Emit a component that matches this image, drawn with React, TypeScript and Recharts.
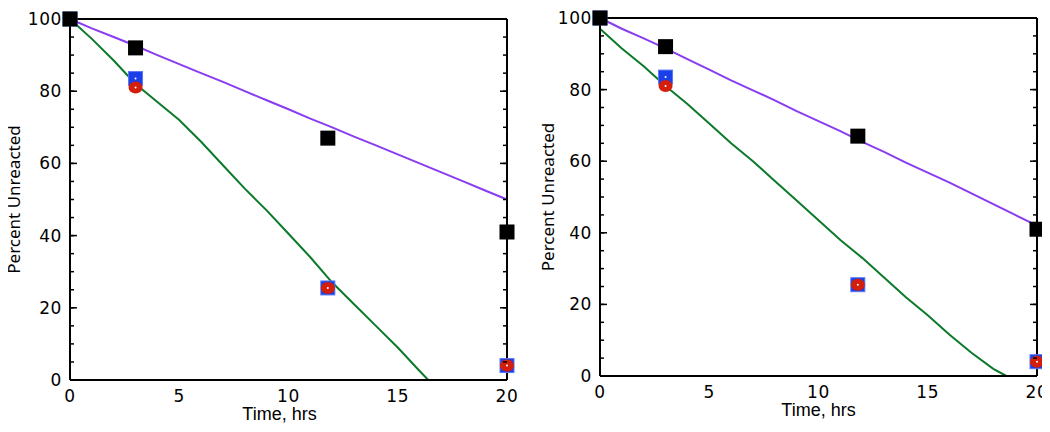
import React from 'react';
import { ComposedChart, Line, Scatter, XAxis, YAxis } from 'recharts';

// Measured samples (hrs)
const sampleTimes = [0, 3, 11.8, 20];
const blackValues = [100, 92, 67, 41];
const blueValues = [100, 83.5, 25.5, 4];
const redValues = [100, 81, 25.5, 4];

// Fit curves, left panel
const leftPurpleTimes = [0, 1, 2, 3, 4, 5, 6, 7, 8, 9, 10, 11, 12, 13, 14, 15, 16, 17, 18, 19, 20];
const leftPurpleValues = [100, 97.4, 95, 92.6, 90, 87.5, 85, 82.6, 80, 77.5, 75, 72.4, 70, 67.4, 65, 62.5, 60, 57.5, 55, 52.5, 50];
const leftGreenTimes = [0, 1, 2, 3, 4, 5, 6, 7, 8, 9, 10, 11, 12, 13, 14, 15, 16, 16.4];
const leftGreenValues = [100, 94.5, 88.5, 82, 77, 72, 66, 59.5, 53, 47, 40.5, 34, 27, 21, 15, 9, 2.5, 0];

// Fit curves, right panel
const rightPurpleTimes = [0, 1, 2, 3, 4, 5, 6, 7, 8, 9, 10, 11, 12, 13, 14, 15, 16, 17, 18, 19, 20];
const rightPurpleValues = [100, 97, 94.3, 91.5, 88.5, 85.6, 82.6, 79.8, 77, 74, 71.2, 68.4, 65.4, 62.6, 59.6, 56.8, 54, 51, 48, 45, 42];
const rightGreenTimes = [0, 1, 2, 3, 4, 5, 6, 7, 8, 9, 10, 11, 12, 13, 14, 15, 16, 17, 18, 18.6];
const rightGreenValues = [97, 91.5, 86.5, 81, 76, 70.5, 65, 60, 54.5, 49, 43.5, 38, 33, 27.5, 22, 17, 11.5, 6.5, 2, 0];

const xMajorTicks = [0, 5, 10, 15, 20];
const xMinorTicks = [0, 1, 2, 3, 4, 5, 6, 7, 8, 9, 10, 11, 12, 13, 14, 15, 16, 17, 18, 19, 20];
const yMajorTicks = [0, 20, 40, 60, 80, 100];
const yMinorTicks = [0, 5, 10, 15, 20, 25, 30, 35, 40, 45, 50, 55, 60, 65, 70, 75, 80, 85, 90, 95, 100];

const xLabel = 'Time, hrs';
const yLabel = 'Percent Unreacted';

const zip = (xs: number[], ys: number[]) => xs.map((x, i) => ({ x, y: ys[i] }));

const BlackSquare = (p: any) => (
  <rect x={p.cx - 7.5} y={p.cy - 7.5} width={15} height={15} fill="#000" />
);
const BlueSquare = (p: any) => (
  <g>
    <rect x={p.cx - 7} y={p.cy - 7} width={14} height={14} fill="#1a3ee8" stroke="#5a78f0" strokeWidth={1} />
    <circle cx={p.cx} cy={p.cy} r={1} fill="#fff" />
  </g>
);
const RedCircle = (p: any) => (
  <g>
    <ellipse cx={p.cx} cy={p.cy} rx={7} ry={6} fill="#d21e0a" />
    <circle cx={p.cx} cy={p.cy} r={1} fill="#fff" />
  </g>
);

// inward tick mark drawn at the axis line position
const makeTick = (dx: number, dy: number) => (p: any) => (
  <line x1={p.x} y1={p.y} x2={p.x + dx} y2={p.y + dy} stroke="#000" strokeWidth={1.5} />
);
const MINOR = 4;
const MAJOR = 7;

const tickStyle = { fill: '#000', fontSize: 17, fontFamily: 'DejaVu Sans', letterSpacing: 0.6 };
const axisLineStyle = { stroke: '#000', strokeWidth: 2 };
const THIN = 0.001;

type PanelProps = {
  width: number;
  height: number;
  top: number;
  right: number;
  yAxisWidth: number;
  xAxisHeight: number;
  purple: { x: number; y: number }[];
  green: { x: number; y: number }[];
  yLabelDx: number;
  xLabelDx: number;
  xLabelDy: number;
};

function Panel(props: PanelProps) {
  const { width, height, top, right, yAxisWidth, xAxisHeight, purple, green, yLabelDx, xLabelDx, xLabelDy } = props;
  const black = zip(sampleTimes, blackValues);
  const blue = zip(sampleTimes, blueValues);
  const red = zip(sampleTimes, redValues);
  const deco = { type: 'number' as const, interval: 0 as const, tickLine: false, tickSize: 0, tickMargin: 0, allowDataOverflow: true, mirror: true };
  return (
    <ComposedChart width={width} height={height} margin={{ top, right, bottom: 0, left: 0 }}>
      <XAxis
        xAxisId={0}
        dataKey="x"
        type="number"
        domain={[0, 20]}
        ticks={xMajorTicks}
        interval={0}
        height={xAxisHeight}
        tickLine={false}
        tickSize={0}
        tickMargin={10}
        axisLine={axisLineStyle}
        tick={tickStyle}
        label={{ value: xLabel, position: 'center', dx: xLabelDx, dy: xLabelDy, fill: '#000', fontSize: 18, fontFamily: 'Liberation Sans' }}
      />
      <XAxis xAxisId="bmin" {...deco} domain={[0, 20]} ticks={xMinorTicks} orientation="bottom" height={THIN} axisLine={false} tick={makeTick(0, -MINOR)} />
      <XAxis xAxisId="bmaj" {...deco} domain={[0, 20]} ticks={xMajorTicks} orientation="bottom" height={THIN} axisLine={false} tick={makeTick(0, -MAJOR)} />
      <XAxis xAxisId="tmin" {...deco} domain={[0, 20]} ticks={xMinorTicks} orientation="top" height={THIN} axisLine={axisLineStyle} tick={makeTick(0, MINOR)} />
      <XAxis xAxisId="tmaj" {...deco} domain={[0, 20]} ticks={xMajorTicks} orientation="top" height={THIN} axisLine={false} tick={makeTick(0, MAJOR)} />
      <YAxis
        yAxisId={0}
        dataKey="y"
        type="number"
        domain={[0, 100]}
        ticks={yMajorTicks}
        interval={0}
        width={yAxisWidth}
        tickLine={false}
        tickSize={0}
        tickMargin={8}
        axisLine={axisLineStyle}
        tick={tickStyle}
        label={{ value: yLabel, angle: -90, position: 'center', dx: yLabelDx, fill: '#000', fontSize: 17, fontFamily: 'Noto Sans' }}
      />
      <YAxis yAxisId="lmin" {...deco} domain={[0, 100]} ticks={yMinorTicks} orientation="left" width={THIN} axisLine={false} tick={makeTick(MINOR, 0)} />
      <YAxis yAxisId="lmaj" {...deco} domain={[0, 100]} ticks={yMajorTicks} orientation="left" width={THIN} axisLine={false} tick={makeTick(MAJOR, 0)} />
      <YAxis yAxisId="rmin" {...deco} domain={[0, 100]} ticks={yMinorTicks} orientation="right" width={THIN} axisLine={axisLineStyle} tick={makeTick(-MINOR, 0)} />
      <YAxis yAxisId="rmaj" {...deco} domain={[0, 100]} ticks={yMajorTicks} orientation="right" width={THIN} axisLine={false} tick={makeTick(-MAJOR, 0)} />
      <Line data={purple} dataKey="y" type="linear" stroke="#8a3cf0" strokeWidth={2} dot={false} isAnimationActive={false} />
      <Line data={green} dataKey="y" type="linear" stroke="#0b7a2a" strokeWidth={2} dot={false} isAnimationActive={false} />
      <Scatter data={blue} dataKey="y" shape={BlueSquare} isAnimationActive={false} />
      <Scatter data={red} dataKey="y" shape={RedCircle} isAnimationActive={false} />
      <Scatter data={black} dataKey="y" shape={BlackSquare} isAnimationActive={false} />
    </ComposedChart>
  );
}

export default function App() {
  return (
    <div style={{ display: 'flex', width: 1034, height: 416 }}>
      <style>{'html,body{overflow:hidden;} svg.recharts-surface{overflow:visible;} .recharts-wrapper{overflow:visible;}'}</style>
      <div style={{ flex: '0 0 auto' }}>
        <Panel
          width={525}
          height={416}
          top={11}
          right={26}
          yAxisWidth={62}
          xAxisHeight={44}
          purple={zip(leftPurpleTimes, leftPurpleValues)}
          green={zip(leftGreenTimes, leftGreenValues)}
          yLabelDx={-25}
          xLabelDx={-9}
          xLabelDy={12}
        />
      </div>
      <div style={{ flex: '0 0 auto' }}>
        <Panel
          width={509}
          height={416}
          top={10}
          right={5}
          yAxisWidth={67}
          xAxisHeight={48}
          purple={zip(rightPurpleTimes, rightPurpleValues)}
          green={zip(rightGreenTimes, rightGreenValues)}
          yLabelDx={-19}
          xLabelDx={0}
          xLabelDy={10}
        />
      </div>
    </div>
  );
}
